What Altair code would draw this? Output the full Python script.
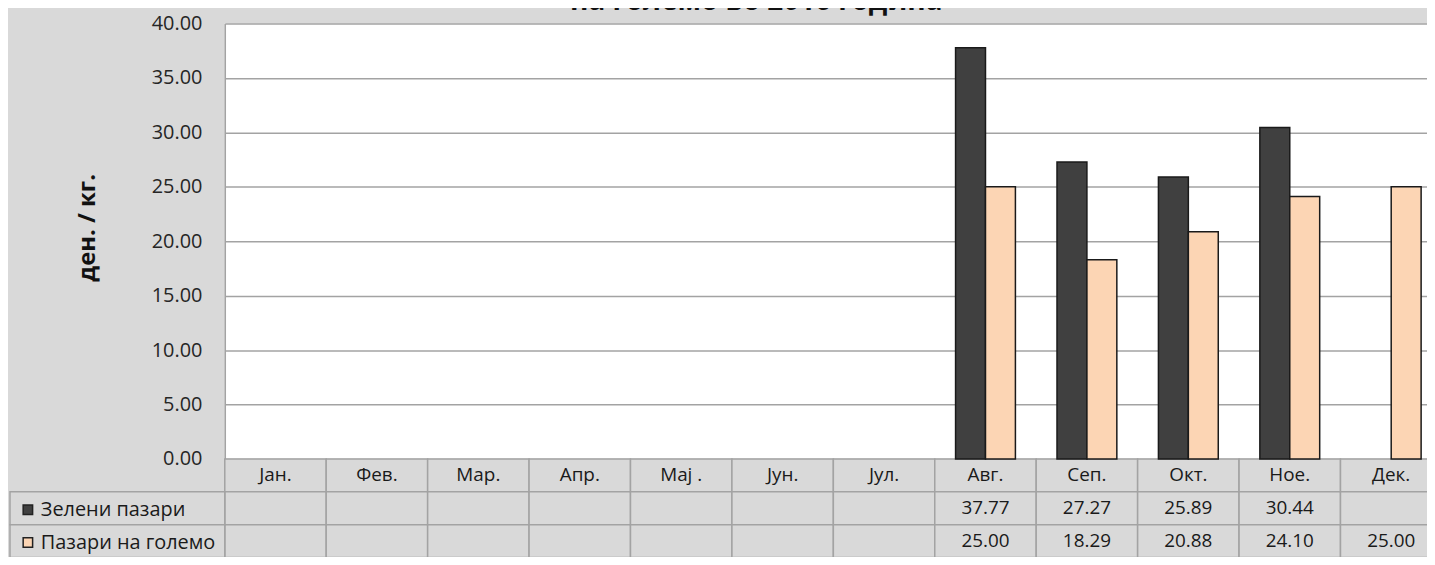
import altair as alt
import pandas as pd

# ---- data ----
months = ["Јан.", "Фев.", "Мар.", "Апр.", "Мај .", "Јун.", "Јул.",
          "Авг.", "Сеп.", "Окт.", "Ное.", "Дек."]
series = ["Зелени пазари", "Пазари на големо"]
green_markets = [None, None, None, None, None, None, None, 37.77, 27.27, 25.89, 30.44, None]
wholesale_markets = [None, None, None, None, None, None, None, 25.00, 18.29, 20.88, 24.10, 25.00]
y_ticks = [0, 5, 10, 15, 20, 25, 30, 35, 40]
row_keys = ["hdr", "s1", "s2"]

# ---- tables built from the arrays ----
bar_rows = []
for s, vals in zip(series, [green_markets, wholesale_markets]):
    for m, v in zip(months, vals):
        if v is not None:
            bar_rows.append({"month": m, "series": s, "value": v})
bars_df = pd.DataFrame(bar_rows)

cell_rows = []
for i, m in enumerate(months):
    cell_rows.append({"month": m, "row": "hdr", "label": m})
    g = green_markets[i]
    w = wholesale_markets[i]
    cell_rows.append({"month": m, "row": "s1", "label": "" if g is None else f"{g:.2f}"})
    cell_rows.append({"month": m, "row": "s2", "label": "" if w is None else f"{w:.2f}"})
cells_df = pd.DataFrame(cell_rows)
legend_cells_df = pd.DataFrame({"row": ["s1", "s2"]})

FONT = "Open Sans"
GRID = "#a3a3a3"
X_RANGE = [0, 1224]
PLOT_H = 438
TABLE_RANGE = [438, 537]

x_bar = alt.X("month:N", sort=months,
              scale=alt.Scale(domain=months, range=X_RANGE, paddingInner=0.41, paddingOuter=0.205),
              axis=None)
x_cell = alt.X("month:N", sort=months,
               scale=alt.Scale(domain=months, range=X_RANGE, paddingInner=0, paddingOuter=0),
               axis=None)
y_cell = alt.Y("row:N", sort=row_keys,
               scale=alt.Scale(domain=row_keys, range=TABLE_RANGE, paddingInner=0, paddingOuter=0),
               axis=None)

bars = alt.Chart(bars_df).mark_bar(stroke="#1a1a1a", strokeWidth=1.5).encode(
    x=x_bar,
    xOffset=alt.XOffset("series:N", sort=series,
                        scale=alt.Scale(domain=series, paddingInner=0, paddingOuter=0)),
    y=alt.Y("value:Q",
            scale=alt.Scale(domain=[0, 40], range=[PLOT_H, 0], nice=False, zero=True),
            axis=alt.Axis(values=y_ticks, format=".2f", grid=True, gridColor=GRID, gridWidth=1.5,
                          ticks=False, tickSize=0, labelPadding=23, labelFontSize=20,
                          labelFont=FONT, labelColor="#262626",
                          domainColor=GRID, domainWidth=1.5,
                          title="ден. / кг.", titleFont=FONT, titleFontSize=24,
                          titleFontWeight="bold", titleColor="#111111",
                          titleX=-138, titleY=205, titleAlign="center", titleBaseline="middle")),
    color=alt.Color("series:N", sort=series,
                    scale=alt.Scale(domain=series, range=["#404040", "#fcd5b4"]),
                    legend=alt.Legend(orient="none", legendX=-208, legendY=479, title=None,
                                      symbolType="square", symbolSize=90,
                                      symbolStrokeColor="#222222", symbolStrokeWidth=1.5,
                                      labelFont=FONT, labelFontSize=20, labelColor="#1a1a1a",
                                      labelLimit=260, labelOffset=3, rowPadding=13, padding=0)),
)

cells = alt.Chart(cells_df).mark_rect(fill="#d9d9d9", stroke=GRID, strokeWidth=1.5).encode(
    x=x_cell, y=y_cell
)

legend_cells = alt.Chart(legend_cells_df).mark_rect(fill="#d9d9d9", stroke=GRID, strokeWidth=1.5).encode(
    x=alt.value(-216), x2=alt.value(0), y=y_cell
)

cell_text = alt.Chart(cells_df).mark_text(font=FONT, fontSize=19, color="#1a1a1a").encode(
    x=x_cell, y=y_cell, text="label:N"
)

chart = alt.layer(cells, legend_cells, cell_text, bars).resolve_scale(
    x="independent", y="independent", color="independent", xOffset="independent"
).resolve_axis(x="independent", y="independent").properties(
    width=1209,
    height=535,
    autosize=alt.AutoSizeParams(type="none"),
    padding={"left": 218, "top": 14, "right": 0, "bottom": 0},
    background="#d9d9d9",
    title=alt.TitleParams("на големо во 2016 година", font=FONT, fontSize=28, fontWeight="bold",
                          color="#111111", anchor="middle", frame="group", dx=-70, offset=-2),
).configure_view(fill="white", stroke=None)

chart.save("out.html", embed_options={"renderer": "svg", "actions": False})
